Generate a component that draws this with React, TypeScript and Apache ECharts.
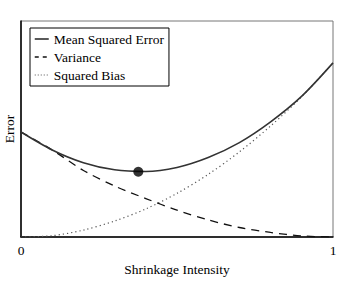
import React, { useEffect, useRef } from "react";
import * as echarts from "echarts";

const shrinkage = [0, 0.1, 0.2, 0.3, 0.4, 0.5, 0.6, 0.7, 0.8, 0.9, 1];
const mse = [0.486, 0.403, 0.344, 0.311, 0.303, 0.322, 0.368, 0.437, 0.533, 0.652, 0.806];
const variance = [0.486, 0.403, 0.308, 0.236, 0.178, 0.124, 0.079, 0.044, 0.021, 0.005, 0];
const squaredBias = [0, 0.006, 0.032, 0.074, 0.13, 0.202, 0.29, 0.394, 0.514, 0.65, 0.806];
const minimumPoint = [0.376, 0.302];
const xTickLabels = ["0", "1"];
const seriesNames = ["Mean Squared Error", "Variance", "Squared Bias"];

const FONT = "Liberation Serif";

export default function App() {
  const ref = useRef<HTMLDivElement>(null);
  useEffect(() => {
    document.body.style.margin = "0";
    if (!ref.current) return;
    const chart = echarts.init(ref.current, null, { renderer: "svg" });
    const pairs = (ys: number[]) => shrinkage.map((x, i) => [x, ys[i]]);
    chart.setOption({
      animation: false,
      backgroundColor: "#fff",
      textStyle: { fontFamily: FONT, color: "#000" },
      grid: {
        left: 21,
        right: 19,
        top: 21,
        bottom: 45,
        containLabel: false,
        outerBoundsMode: "none",
        show: true,
        borderColor: "#777",
        borderWidth: 1,
      },
      legend: {
        data: [
          { name: seriesNames[0], lineStyle: { color: "#222", width: 1.5, type: "solid" } },
          { name: seriesNames[1], lineStyle: { color: "#111", width: 1.3, type: [4, 4] } },
          { name: seriesNames[2], lineStyle: { color: "#555", width: 1.2, type: [1, 2] } },
        ],
        orient: "vertical",
        left: 30,
        top: 28,
        padding: [4, 5, 4, 4],
        itemGap: 4,
        itemWidth: 14,
        itemHeight: 14,
        itemStyle: { opacity: 0 },
        borderColor: "#000",
        borderWidth: 1,
        backgroundColor: "#fff",
        textStyle: { fontFamily: FONT, fontSize: 13.5, color: "#000" },
      },
      xAxis: {
        type: "value",
        min: 0,
        max: 1,
        interval: 1,
        name: "Shrinkage Intensity",
        nameLocation: "middle",
        nameGap: 25,
        nameTextStyle: { fontFamily: FONT, fontSize: 13.5, color: "#000" },
        axisLine: { show: true, onZero: false, lineStyle: { color: "#000", width: 1.5 } },
        axisTick: { show: false },
        splitLine: { show: false },
        axisLabel: {
          margin: 6,
          fontFamily: FONT,
          fontSize: 13.5,
          color: "#000",
          formatter: (v: number) => (v === 0 ? xTickLabels[0] : v === 1 ? xTickLabels[1] : ""),
        },
      },
      yAxis: {
        type: "value",
        min: 0,
        max: 1,
        name: "Error",
        nameLocation: "middle",
        nameRotate: 90,
        nameGap: 5,
        nameTextStyle: { fontFamily: FONT, fontSize: 13.5, color: "#000" },
        axisLine: { show: true, onZero: false, lineStyle: { color: "#000", width: 1.5 } },
        axisTick: { show: false },
        axisLabel: { show: false },
        splitLine: { show: false },
      },
      series: [
        {
          name: seriesNames[0],
          type: "line",
          data: pairs(mse),
          smooth: 0.3,
          symbol: "none",
          lineStyle: { color: "#333", width: 1.6, type: "solid" },
          itemStyle: { color: "#333" },
          z: 3,
        },
        {
          name: seriesNames[1],
          type: "line",
          data: pairs(variance),
          smooth: 0.3,
          symbol: "none",
          lineStyle: { color: "#111", width: 1.3, type: [8, 6] },
          itemStyle: { color: "#111" },
          z: 2,
        },
        {
          name: seriesNames[2],
          type: "line",
          data: pairs(squaredBias),
          smooth: 0.3,
          symbol: "none",
          lineStyle: { color: "#555", width: 1.2, type: [1.2, 3] },
          itemStyle: { color: "#555" },
          z: 1,
        },
        {
          name: "minimum",
          type: "scatter",
          data: [minimumPoint],
          symbol: "circle",
          symbolSize: 10,
          itemStyle: { color: "#000" },
          z: 4,
        },
      ],
    });
    return () => chart.dispose();
  }, []);
  return <div ref={ref} style={{ position: "absolute", left: 0, top: 0, width: 352, height: 282 }} />;
}
